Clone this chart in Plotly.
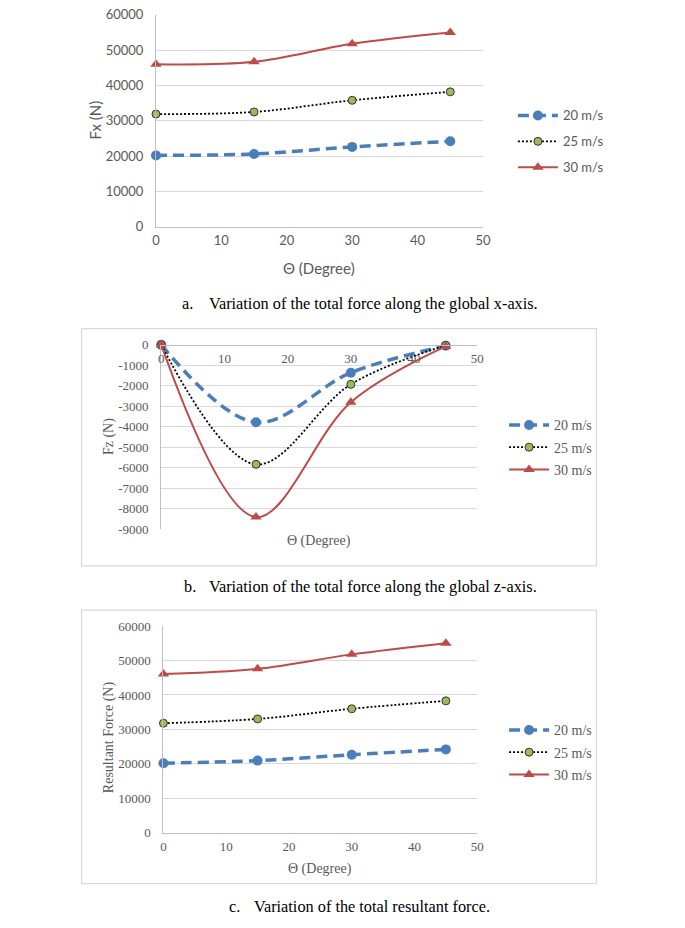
import plotly.graph_objects as go

# ---------------- data ----------------
theta = [0, 15, 30, 45]
series_names = ["20 m/s", "25 m/s", "30 m/s"]

fx_20 = [20200, 20600, 22600, 24200]
fx_25 = [31900, 32500, 35800, 38200]
fx_30 = [46000, 46700, 51800, 55000]

fz_20 = [0, -3780, -1360, -50]
fz_25 = [0, -5830, -1930, -30]
fz_30 = [0, -8400, -2800, -80]

fr_20 = [20200, 20950, 22650, 24200]
fr_25 = [31800, 33050, 36000, 38300]
fr_30 = [46100, 47600, 51800, 55050]

x_ticks = [0, 10, 20, 30, 40, 50]
force_ticks = [0, 10000, 20000, 30000, 40000, 50000, 60000]
fz_ticks = [0, -1000, -2000, -3000, -4000, -5000, -6000, -7000, -8000, -9000]

captions = [
    ("a.", "Variation of the total force along the global x-axis."),
    ("b.", "Variation of the total force along the global z-axis."),
    ("c.", "Variation of the total resultant force."),
]

# ---------------- styling ----------------
W, H = 685, 928
def px(x):
    return min(1.0, max(0.0, x / W))
def py(y):
    return min(1.0, max(0.0, 1 - y / H))

BLUE = "#4A7EBB"
GREEN = "#9BBB59"
RED = "#BE4B48"
GRID = "#D9D9D9"
AXIS = "#BFBFBF"
TXT = "#595959"
SANS = "Lato, Carlito, Liberation Sans, sans-serif"
SERIF = "Liberation Serif, Times New Roman, serif"

styles = [
    dict(line=dict(color=BLUE, width=3.5, dash="11px,6px", shape="spline"),
         marker=dict(symbol="circle", size=10, color=BLUE)),
    dict(line=dict(color="black", width=1.8, dash="2px,2px", shape="spline"),
         marker=dict(symbol="circle", size=8, color=GREEN, line=dict(color="#333333", width=1))),
    dict(line=dict(color=RED, width=2, shape="spline"),
         marker=dict(symbol="triangle-up", size=10, color=RED)),
]

fig = go.Figure()

panels = [
    ([fx_20, fx_25, fx_30], "x", "y", "legend"),
    ([fz_20, fz_25, fz_30], "x2", "y2", "legend2"),
    ([fr_20, fr_25, fr_30], "x3", "y3", "legend3"),
]
for vals, xa, ya, lg in panels:
    for i, (name, v) in enumerate(zip(series_names, vals)):
        fig.add_trace(go.Scatter(
            x=theta, y=v, name=name, mode="lines+markers",
            xaxis=xa, yaxis=ya, legend=lg, legendgroup=lg + str(i),
            line=styles[i]["line"], marker=styles[i]["marker"],
            cliponaxis=False,
        ))

# axis domains (pixel based)
dom_a = dict(x=[px(154.7), px(487.5)], y=[py(223.3), py(8)])
dom_b = dict(x=[px(160), px(481.7)], y=[py(531), py(343.3)])
dom_c = dict(x=[px(162.3), px(481.7)], y=[py(839.3), py(629.3)])

def xaxis(dom, anchor, font, **kw):
    d = dict(domain=dom["x"], anchor=anchor, range=[0, 50], tickvals=x_ticks,
             ticktext=[str(v) for v in x_ticks],
             showgrid=False, zeroline=False, showline=True, linecolor=AXIS,
             linewidth=1, ticks="", ticklabelstandoff=2,
             tickfont=dict(family=font, size=13, color=TXT))
    d.update(kw)
    return d

def yaxis(dom, anchor, font, rng, tv, **kw):
    d = dict(domain=dom["y"], anchor=anchor, range=rng, tickvals=tv,
             ticktext=[str(v) for v in tv],
             showgrid=True, gridcolor=GRID, gridwidth=1, zeroline=False,
             showline=True, linecolor=AXIS, linewidth=1, ticks="",
             ticklabelstandoff=9,
             tickfont=dict(family=font, size=13, color=TXT))
    d.update(kw)
    return d

fig.update_layout(
    xaxis=xaxis(dom_a, "y", SANS),
    yaxis=yaxis(dom_a, "x", SANS, [0, 60000], force_ticks),
    xaxis2=xaxis(dom_b, "free", SERIF, position=py(343.3), side="bottom"),
    yaxis2=yaxis(dom_b, "x2", SERIF, [-9000, 0], fz_ticks),
    xaxis3=xaxis(dom_c, "y3", SERIF),
    yaxis3=yaxis(dom_c, "x3", SERIF, [0, 60000], force_ticks),
)

legend_common = dict(xanchor="left", yanchor="top", bgcolor="rgba(0,0,0,0)",
                     borderwidth=0, traceorder="grouped", itemwidth=40)
fig.update_layout(
    legend=dict(legend_common, x=px(518), y=py(95), tracegroupgap=6,
                font=dict(family=SANS, size=13, color=TXT)),
    legend2=dict(legend_common, x=px(509), y=py(409), tracegroupgap=1,
                 font=dict(family=SERIF, size=14, color=TXT)),
    legend3=dict(legend_common, x=px(509), y=py(719), tracegroupgap=1,
                 font=dict(family=SERIF, size=14, color=TXT)),
)

annotations = []
def ann(text, x, y, font, size, color=TXT, angle=0, xanchor="center"):
    annotations.append(dict(text=text, x=px(x), y=py(y), xref="paper", yref="paper",
                            showarrow=False, xanchor=xanchor, yanchor="middle",
                            textangle=angle, font=dict(family=font, size=size, color=color)))

# axis titles
ann("Θ (Degree)", 321, 265, SANS, 15)
ann("Fx (N)", 93, 115, SANS, 15, angle=-90)
ann("Θ (Degree)", 321, 543, SERIF, 14)
ann("Fz (N)", 107, 437, SERIF, 14, angle=-90)
ann("Θ (Degree)", 322, 876, SERIF, 14)
ann("Resultant Force (N)", 107, 742, SERIF, 14, angle=-90)

# captions
cap_pos = [(179, 207, 301), (181, 207, 589), (227, 252, 914)]
for (lab, txt), (xl, xt, yc) in zip(captions, cap_pos):
    ann(lab, xl, yc, SERIF, 16.3, color="black", xanchor="left")
    ann(txt, xt, yc, SERIF, 16.3, color="black", xanchor="left")

fig.update_layout(annotations=annotations)

# chart frames for b and c
fig.update_layout(shapes=[
    dict(type="rect", xref="paper", yref="paper", x0=px(79), x1=px(603), y0=py(568), y1=py(327),
         line=dict(color=GRID, width=1.2)),
    dict(type="rect", xref="paper", yref="paper", x0=px(79), x1=px(603), y0=py(891), y1=py(613),
         line=dict(color=GRID, width=1.2)),
])

fig.update_layout(width=W, height=H, margin=dict(l=0, r=0, t=0, b=0),
                  paper_bgcolor="white", plot_bgcolor="white", showlegend=True)

fig.write_html("out.html", config={"displayModeBar": False},
               post_script="document.body.style.margin='0';document.body.style.overflow='hidden';")
